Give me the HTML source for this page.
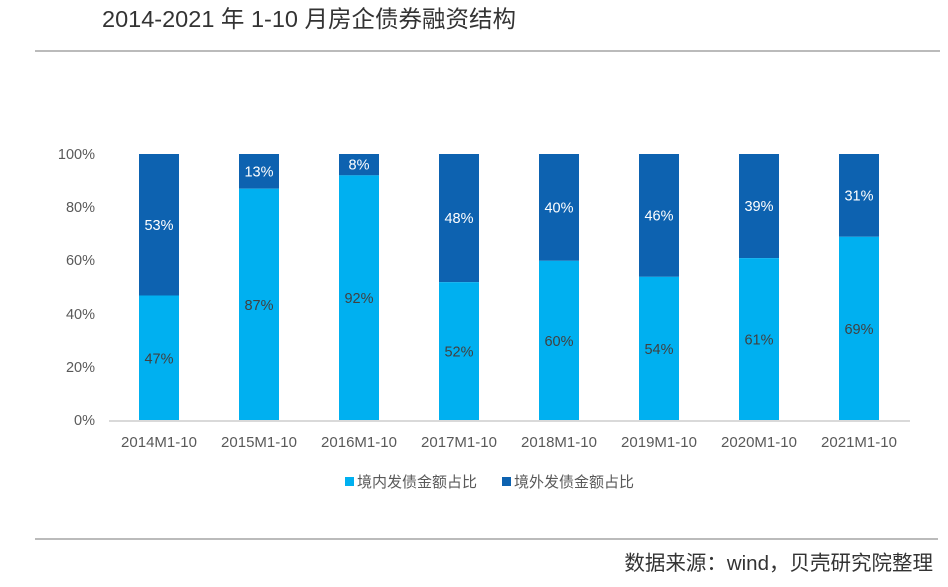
<!DOCTYPE html>
<html><head><meta charset="utf-8"><style>
body{margin:0;background:#fff;}
svg text{font-family:"Liberation Sans","Noto Sans CJK SC",sans-serif;}
</style></head><body>
<svg width="948" height="582" viewBox="0 0 948 582" xmlns="http://www.w3.org/2000/svg">
<rect width="948" height="582" fill="#fff"/>
<text x="102" y="27" font-size="23.5" fill="#333">2014-2021 年 1-10 月房企债券融资结构</text>
<line x1="35" y1="51" x2="940" y2="51" stroke="#bbb" stroke-width="2"/>
<g font-size="14.5" fill="#595959" text-anchor="end">
<text x="95" y="159">100%</text>
<text x="95" y="212">80%</text>
<text x="95" y="265">60%</text>
<text x="95" y="319">40%</text>
<text x="95" y="372">20%</text>
<text x="95" y="425">0%</text>
</g>
<g id="bars"></g>
<line x1="109" y1="421" x2="910" y2="421" stroke="#d9d9d9" stroke-width="2"/>
<rect x="345" y="477" width="9" height="9" fill="#00b0f0"/>
<text x="357" y="487" font-size="15" fill="#595959">境内发债金额占比</text>
<rect x="502" y="477" width="9" height="9" fill="#0d62b0"/>
<text x="514" y="487" font-size="15" fill="#595959">境外发债金额占比</text>
<line x1="35" y1="539" x2="938" y2="539" stroke="#bbb" stroke-width="2"/>
<text x="933" y="570" font-size="20.5" fill="#333" text-anchor="end">数据来源：wind，贝壳研究院整理</text>
</svg>
<script>
(function(){
var d=[47,87,92,52,60,54,61,69],y0=421,h=267,g=document.getElementById('bars'),s='';
for(var i=0;i<8;i++){var x=139+i*100,v=d[i],yb=y0-v*h/100,t0=y0-h;
s+='<rect x="'+x+'" y="'+t0+'" width="40" height="'+(yb-t0)+'" fill="#0d62b0"/>';
s+='<rect x="'+x+'" y="'+yb+'" width="40" height="'+(y0-yb)+'" fill="#00b0f0"/>';
s+='<text x="'+(x+20)+'" y="'+((t0+yb)/2+5)+'" font-size="14.5" fill="#fff" text-anchor="middle">'+(100-v)+'%</text>';
s+='<text x="'+(x+20)+'" y="'+((yb+y0)/2+5)+'" font-size="14.5" fill="#404040" text-anchor="middle">'+v+'%</text>';
s+='<text x="'+(x+20)+'" y="447" font-size="15" fill="#595959" text-anchor="middle">'+(2014+i)+'M1-10</text>';}
g.innerHTML=s;
})();
</script>
</body></html>
